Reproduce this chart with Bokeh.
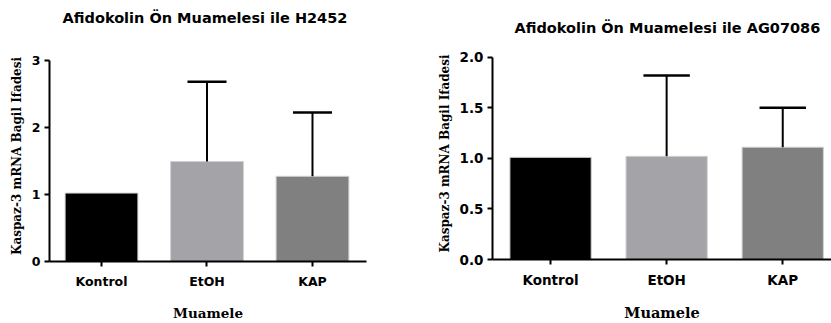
from bokeh.plotting import figure
from bokeh.layouts import row, column
from bokeh.models import ColumnDataSource, FixedTicker, Range1d, Label
from bokeh.embed import file_html
from bokeh.resources import INLINE

categories = ["Kontrol", "EtOH", "KAP"]
h2452_mean = [1.02, 1.49, 1.27]
h2452_err = [0.0, 1.19, 0.95]
ag07086_mean = [1.01, 1.02, 1.11]
ag07086_err = [0.0, 0.80, 0.39]
bar_colors = ["#000000", "#A4A4A8", "#808080"]
h2452_ticks = [0, 1, 2, 3]
ag07086_ticks = [0.0, 0.5, 1.0, 1.5, 2.0]

SANS = "DejaVu Sans"
SERIF = "DejaVu Serif"
H = 323
PAD = 10  # frame extends a few px above the axis top so the top tick label is not cut


def make(title, means, errs, yticks, ymax, width, left, right, axis_top_px, bottom,
         xr, bar_w, cap_hw, tick_fmt, title_x, title_px, fs):
    title_h = axis_top_px - PAD
    chart_h = H - title_h
    frame_h = chart_h - bottom
    y_end = ymax * frame_h / (frame_h - PAD)

    # title strip
    tf = figure(width=width, height=title_h, output_backend="svg", toolbar_location=None,
                x_range=Range1d(0, width), y_range=Range1d(0, title_h),
                x_axis_type=None, y_axis_type=None,
                min_border_left=0, min_border_right=0, min_border_top=0, min_border_bottom=0)
    tf.grid.visible = False
    tf.outline_line_color = None
    tf.add_layout(Label(x=title_x, y=title_h - title_px, text=title,
                        text_align="center", text_baseline="middle", text_font=SANS,
                        text_font_style="bold", text_font_size=fs["title"], text_color="black"))

    p = figure(width=width, height=chart_h, output_backend="svg", toolbar_location=None,
               x_range=Range1d(*xr), y_range=Range1d(0, y_end),
               min_border_left=left, min_border_right=right,
               min_border_top=0, min_border_bottom=bottom)
    p.title = None
    xs = list(range(len(categories)))
    src = ColumnDataSource(dict(x=xs, top=means, color=bar_colors))
    p.vbar(x="x", top="top", bottom=0, width=bar_w, fill_color="color",
           line_color="#D0D0D0", line_width=1, source=src)
    err_idx = [i for i, e in enumerate(errs) if e > 0]
    esrc = ColumnDataSource(dict(x=[xs[i] for i in err_idx], y0=[means[i] for i in err_idx],
                                 y1=[means[i] + errs[i] for i in err_idx],
                                 cl=[xs[i] - cap_hw for i in err_idx],
                                 cr=[xs[i] + cap_hw for i in err_idx]))
    p.segment(x0="x", y0="y0", x1="x", y1="y1", line_color="black", line_width=2, source=esrc)
    p.segment(x0="cl", y0="y1", x1="cr", y1="y1", line_color="black", line_width=2.5, source=esrc)

    p.grid.visible = False
    p.outline_line_color = None
    p.background_fill_color = "white"
    p.border_fill_color = "white"

    p.xaxis.ticker = FixedTicker(ticks=xs)
    p.xaxis.major_label_overrides = {i: c for i, c in enumerate(categories)}
    p.yaxis.ticker = FixedTicker(ticks=yticks)
    p.yaxis.major_label_overrides = {t: (tick_fmt % t) for t in yticks}
    p.yaxis.bounds = (0, ymax)
    for ax in (p.xaxis, p.yaxis):
        ax.axis_line_width = 2
        ax.axis_line_color = "black"
        ax.major_tick_line_width = 2
        ax.major_tick_line_color = "black"
        ax.major_tick_in = 0
        ax.major_tick_out = 5
        ax.minor_tick_line_color = None
        ax.major_label_text_font = SANS
        ax.major_label_text_font_style = "bold"
        ax.major_label_text_font_size = fs["tick"]
        ax.major_label_text_color = "black"
        ax.axis_label_text_font = SERIF
        ax.axis_label_text_font_style = "bold"
        ax.axis_label_text_color = "black"
    p.xaxis.axis_label_text_font_size = fs["xlab"]
    p.yaxis.axis_label_text_font_size = fs["ylab"]
    p.xaxis.axis_label = "Muamele"
    p.yaxis.axis_label = "Kaspaz-3 mRNA Bagil Ifadesi"
    p.xaxis.major_label_standoff = 7
    p.xaxis.axis_label_standoff = 13
    p.yaxis.major_label_standoff = 4
    p.yaxis.axis_label_standoff = 5
    return column(tf, p, spacing=0)


c1 = make("Afidokolin Ön Muamelesi ile H2452", h2452_mean, h2452_err, h2452_ticks, 3,
          420, 49, 54, 60, 56, (-0.493, 2.512), 0.69, 0.185, "%d", 206, 17,
          dict(title="14.5px", tick="12.5px", xlab="13.5px", ylab="12px"))
c2 = make("Afidokolin Ön Muamelesi ile AG07086", ag07086_mean, ag07086_err, ag07086_ticks, 2.0,
          411, 72, 0, 57, 57, (-0.5, 2.42), 0.70, 0.20, "%.1f", 212, 27,
          dict(title="14.5px", tick="13.5px", xlab="14.5px", ylab="12px"))

layout = row(c1, c2, spacing=0)
open("out.html", "w").write(file_html(layout, INLINE))
